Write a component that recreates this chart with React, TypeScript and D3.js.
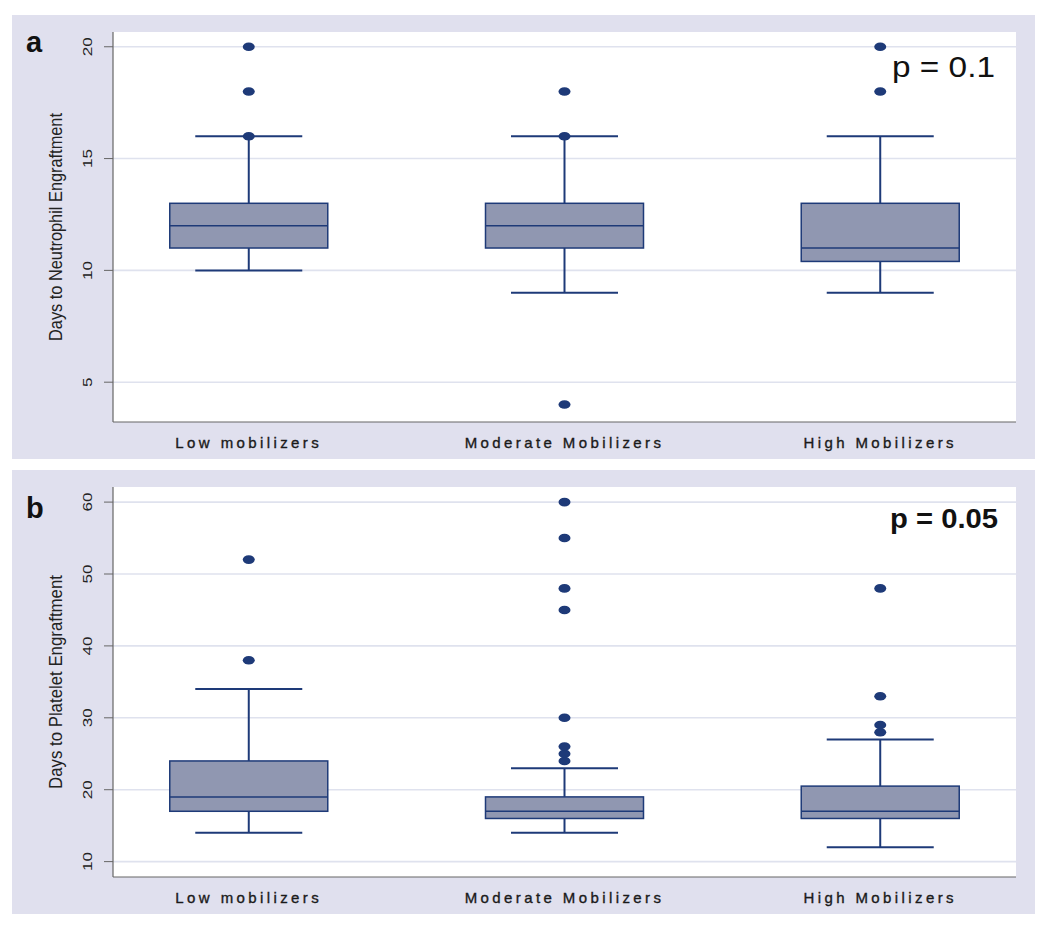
import React from "react";
import * as d3 from "d3";

const categories = ["Low mobilizers", "Moderate Mobilizers", "High Mobilizers"];

// Panel a: Days to Neutrophil Engraftment
const neutroWhiskerLow = [10, 9, 9];
const neutroQ1 = [11, 11, 10.4];
const neutroMedian = [12, 12, 11];
const neutroQ3 = [13, 13, 13];
const neutroWhiskerHigh = [16, 16, 16];
const neutroOutliers = [[16, 18, 20], [4, 16, 18], [18, 20]];
const neutroTicks = [5, 10, 15, 20];

// Panel b: Days to Platelet Engraftment
const plateWhiskerLow = [14, 14, 12];
const plateQ1 = [17, 16, 16];
const plateMedian = [19, 17, 17];
const plateQ3 = [24, 19, 20.5];
const plateWhiskerHigh = [34, 23, 27];
const plateOutliers = [[38, 52], [24, 25, 26, 30, 45, 48, 55, 60], [28, 29, 33, 48]];
const plateTicks = [10, 20, 30, 40, 50, 60];

const W = 1050;
const H = 938;
const FONT = "'Liberation Sans', Arial, sans-serif";
const BG = "#e0e0ee";
const BOX_FILL = "#9097b1";
const NAVY = "#1e3a78";
const GRID = "#dfe2ee";

type PanelProps = {
  top: number;
  letter: string;
  letterY: number;
  yTitle: string;
  yTitleLen: number;
  domain: [number, number];
  ticks: number[];
  wl: number[];
  q1: number[];
  med: number[];
  q3: number[];
  wh: number[];
  outliers: number[][];
  pText: string;
  pBold: boolean;
};

function Panel(p: PanelProps) {
  const bgLeft = 12, bgRight = 1035, bgH = 444;
  const plotLeft = 113, plotRight = 1016;
  const plotTop = p.top + 17, plotBottom = p.top + 407;
  const y = d3.scaleLinear().domain(p.domain).range([plotBottom, plotTop]);
  const x = d3.scalePoint<string>().domain(categories).range([plotLeft, plotRight]).padding(0.43);
  const boxW = 158, capW = 107;
  const midY = (plotTop + plotBottom) / 2;
  return (
    <g>
      <rect x={bgLeft} y={p.top} width={bgRight - bgLeft} height={bgH} fill={BG} />
      <rect x={plotLeft} y={plotTop} width={plotRight - plotLeft} height={plotBottom - plotTop} fill="#fff" />
      {p.ticks.map((t) => (
        <g key={t}>
          <line x1={plotLeft} x2={plotRight} y1={y(t)} y2={y(t)} stroke={GRID} strokeWidth={1.6} />
          <line x1={plotLeft - 9} x2={plotLeft} y1={y(t)} y2={y(t)} stroke="#666" strokeWidth={1} />
          <text
            transform={`translate(${plotLeft - 21},${y(t)}) rotate(-90)`}
            textAnchor="middle"
            fontSize={13.5}
            fontFamily={FONT}
            fill="#222"
            textLength={String(t).length * 9.5}
            lengthAdjust="spacingAndGlyphs"
          >
            {t}
          </text>
        </g>
      ))}
      <line x1={plotLeft} x2={plotLeft} y1={plotTop} y2={plotBottom} stroke="#666" strokeWidth={1.2} />
      <line x1={plotLeft} x2={plotRight} y1={plotBottom} y2={plotBottom} stroke="#666" strokeWidth={1.2} />
      <text
        transform={`translate(${62},${midY}) rotate(-90)`}
        textAnchor="middle"
        fontSize={18}
        fontFamily={FONT}
        fill="#222"
        textLength={p.yTitleLen}
        lengthAdjust="spacingAndGlyphs"
      >
        {p.yTitle}
      </text>
      <text x={26} y={p.top + p.letterY} fontSize={29} fontWeight="bold" fontFamily={FONT} fill="#111">
        {p.letter}
      </text>
      {categories.map((c, i) => {
        const cx = x(c) as number;
        return (
          <g key={c}>
            <line x1={cx} x2={cx} y1={y(p.wl[i])} y2={y(p.q1[i])} stroke={NAVY} strokeWidth={2} />
            <line x1={cx} x2={cx} y1={y(p.q3[i])} y2={y(p.wh[i])} stroke={NAVY} strokeWidth={2} />
            <line x1={cx - capW / 2} x2={cx + capW / 2} y1={y(p.wl[i])} y2={y(p.wl[i])} stroke={NAVY} strokeWidth={2} />
            <line x1={cx - capW / 2} x2={cx + capW / 2} y1={y(p.wh[i])} y2={y(p.wh[i])} stroke={NAVY} strokeWidth={2} />
            <rect
              x={cx - boxW / 2}
              y={y(p.q3[i])}
              width={boxW}
              height={y(p.q1[i]) - y(p.q3[i])}
              fill={BOX_FILL}
              stroke={NAVY}
              strokeWidth={1.5}
            />
            <line x1={cx - boxW / 2} x2={cx + boxW / 2} y1={y(p.med[i])} y2={y(p.med[i])} stroke={NAVY} strokeWidth={1.5} />
            {p.outliers[i].map((o, j) => (
              <ellipse key={j} cx={cx} cy={y(o)} rx={6} ry={4.3} fill={NAVY} />
            ))}
            <text
              x={cx}
              y={plotBottom + 26}
              textAnchor="middle"
              fontSize={15}
              letterSpacing={3.4}
              fontFamily={FONT}
              fill="#1a1a1a"
              stroke="#1a1a1a"
              strokeWidth={0.35}
            >
              {c}
            </text>
          </g>
        );
      })}
      <text
        x={p.pBold ? 998 : 995}
        y={p.top + (p.pBold ? 58 : 62)}
        textAnchor="end"
        fontSize={p.pBold ? 28 : 30}
        fontWeight={p.pBold ? "bold" : "normal"}
        fontFamily={FONT}
        fill="#111"
        textLength={p.pBold ? 108 : 103}
        lengthAdjust="spacingAndGlyphs"
      >
        {p.pText}
      </text>
    </g>
  );
}

export default function App() {
  return (
    <svg width={W} height={H} style={{ position: "absolute", left: 0, top: 0, background: "#fff" }}>
      <Panel
        top={15}
        letter="a"
        letterY={37}
        yTitle="Days to Neutrophil Engraftment"
        yTitleLen={228}
        domain={[3.22, 20.66]}
        ticks={neutroTicks}
        wl={neutroWhiskerLow}
        q1={neutroQ1}
        med={neutroMedian}
        q3={neutroQ3}
        wh={neutroWhiskerHigh}
        outliers={neutroOutliers}
        pText="p = 0.1"
        pBold={false}
      />
      <Panel
        top={470}
        letter="b"
        letterY={48}
        yTitle="Days to Platelet Engraftment"
        yTitleLen={214}
        domain={[7.86, 62.1]}
        ticks={plateTicks}
        wl={plateWhiskerLow}
        q1={plateQ1}
        med={plateMedian}
        q3={plateQ3}
        wh={plateWhiskerHigh}
        outliers={plateOutliers}
        pText="p = 0.05"
        pBold={true}
      />
    </svg>
  );
}
